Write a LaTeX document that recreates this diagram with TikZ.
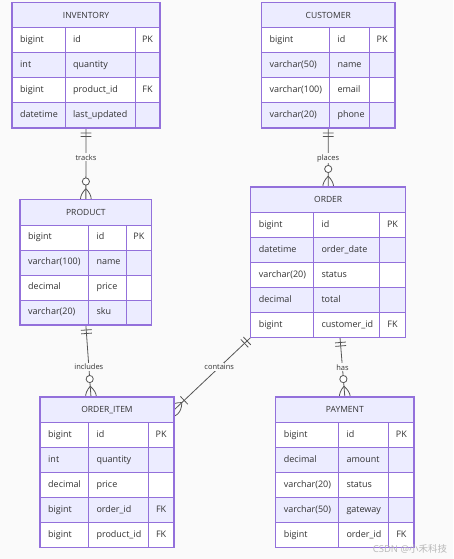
\documentclass[tikz,border=0pt]{standalone}
\usepackage{fontspec}
\setmainfont{Open Sans}
\newfontfamily\cjkfont{Noto Sans CJK SC}
\usetikzlibrary{calc}
\definecolor{bgc}{HTML}{FAFAFA}
\definecolor{hdrc}{HTML}{ECECFF}
\definecolor{evenc}{HTML}{ECECFF}
\definecolor{bordc}{HTML}{9370DB}
\definecolor{txtc}{HTML}{333333}
\definecolor{linec}{HTML}{555555}
\pgfdeclarelayer{back}
\pgfdeclarelayer{edges}
\pgfsetlayers{back,edges,main}
\tikzset{
  tablebox/.style={rectangle, draw=none, fill=white, inner sep=0pt, outer sep=0pt, anchor=north west},
  border/.style={draw=bordc, line width=1.3pt},
  gridline/.style={draw=bordc, line width=1pt},
  hdrtext/.style={font=\fontsize{8.5}{10}\selectfont, text=txtc, inner sep=0pt},
  celltext/.style={font=\fontsize{9}{11}\selectfont, text=txtc, inner sep=0pt, anchor=west, text height=6.6pt, text depth=1.9pt},
  rel/.style={draw=linec, line width=0.8pt},
  lbl/.style={font=\fontsize{7.5}{9}\selectfont, text=txtc, fill=bgc, inner sep=1pt},
  mk/.style={draw=linec, line width=0.8pt},
}
\newcommand\ertable[9]{%
  \pgfmathsetmacro\tbh{25.5+#7*25}%
  \node[tablebox, minimum width={(#5-#2)*1pt}, minimum height={\tbh*1pt}] (#1) at (#2,#6) {};
  \fill[hdrc] (#2,#6) rectangle (#5,{#6+25.5});
  \node[hdrtext] (#1-title) at ({(#2+#5)/2},{#6+12.75}) {#8};
  \foreach \ty/\nm/\ky [count=\i] in {#9} {
    \pgfmathsetmacro\ry{#6+25.5+(\i-1)*25}
    \ifodd\i\relax\else \fill[evenc] (#2,\ry) rectangle (#5,\ry+25);\fi
    \draw[gridline] (#2,\ry) -- (#5,\ry);
    \node[celltext] (#1-t\i) at (#2+8,\ry+12.5) {\ty};
    \node[celltext] (#1-n\i) at (#3+8,\ry+12.5) {\nm};
    \node[celltext, anchor=center] (#1-k\i) at ({(#4+#5)/2},\ry+12.5) {\ky};
  }
  \draw[gridline] (#3,{#6+25.5}) -- (#3,{#6+\tbh});
  \draw[gridline] (#4,{#6+25.5}) -- (#4,{#6+\tbh});
  \draw[border] (#1.north west) rectangle (#1.south east);
}
\newcommand\mkangle[2]{%
  \path let \p1=($(#1)-(#2)$) in \pgfextra{\pgfmathparse{atan2(\y1,\x1)}\xdef\mkang{\pgfmathresult}};}
\newcommand\mklens{\draw[mk] (-10.8,0) .. controls (-3.6,7.2) and (3.6,7.2) .. (10.8,0) .. controls (3.6,-7.2) and (-3.6,-7.2) .. (-10.8,0);}
\newcommand\mkZeroMany[2]{\mkangle{#1}{#2}%
  \begin{scope}[shift={(#1)}, rotate=\mkang]
    \mklens
    \draw[mk, fill=white] (-18,0) circle[radius=3.6pt];
  \end{scope}}
\newcommand\mkOneMany[2]{\mkangle{#1}{#2}%
  \begin{scope}[shift={(#1)}, rotate=\mkang]
    \mklens
    \draw[mk] (-14,-5.4) -- (-14,5.4);
  \end{scope}}
\newcommand\mkOnlyOne[2]{\mkangle{#1}{#2}%
  \begin{scope}[shift={(#1)}, rotate=\mkang]
    \draw[mk] (-5,-5.4) -- (-5,5.4) (-8.5,-5.4) -- (-8.5,5.4);
  \end{scope}}
\begin{document}
\begin{tikzpicture}[x=1pt,y=-1pt]
\useasboundingbox (0,0) rectangle (453,559);
\begin{pgfonlayer}{back}
  \fill[bgc] (0,0) rectangle (453,559);
\end{pgfonlayer}

\ertable{inv}{12}{65}{135}{160}{2.5}{4}{INVENTORY}{bigint/id/PK, int/quantity/{}, bigint/product\_id/FK, datetime/last\_updated/{}}
\ertable{cus}{261.5}{329.3}{369.3}{395}{2.5}{4}{CUSTOMER}{bigint/id/PK, {varchar(50)}/name/{}, {varchar(100)}/email/{}, {varchar(20)}/phone/{}}
\ertable{prod}{20}{88.3}{126}{151.7}{199.5}{4}{PRODUCT}{bigint/id/PK, {varchar(100)}/name/{}, decimal/price/{}, {varchar(20)}/sku/{}}
\ertable{ord}{250.7}{313.3}{379.3}{405.7}{187}{5}{ORDER}{bigint/id/PK, datetime/order\_date/{}, {varchar(20)}/status/{}, decimal/total/{}, bigint/customer\_id/FK}
\ertable{oi}{40}{88.3}{148.3}{174}{397}{5}{ORDER\_ITEM}{bigint/id/PK, int/quantity/{}, decimal/price/{}, bigint/order\_id/FK, bigint/product\_id/FK}
\ertable{pay}{275.7}{338.3}{388.7}{414}{397}{5}{PAYMENT}{bigint/id/PK, decimal/amount/{}, {varchar(20)}/status/{}, {varchar(50)}/gateway/{}, bigint/order\_id/FK}

\coordinate (c1a) at (inv.south);
\coordinate (c1b) at (prod.north);
\coordinate (c2a) at (cus.south);
\coordinate (c2b) at (ord.north);
\coordinate (c3a) at (prod.south);
\coordinate (c3b) at ($(oi.north west)+(51,0)$);
\coordinate (c4a) at (ord.south west);
\coordinate (c4b) at ($(oi.north east)+(0,13)$);
\coordinate (c5a) at ($(ord.south west)+(89.3,0)$);
\coordinate (c5b) at (pay.north);

\begin{pgfonlayer}{edges}
  \draw[rel] (c1a) -- node[lbl, pos=0.41] (l1) {tracks} (c1b);
  \draw[rel] (c2a) -- node[lbl, pos=0.51] (l2) {places} (c2b);
  \draw[rel] (c3a) -- node[lbl, pos=0.58] (l3) {includes} (c3b);
  \draw[rel] (c4a) -- node[lbl, pos=0.41] (l4) {contains} (c4b);
  \draw[rel] (c5a) -- node[lbl, pos=0.5] (l5) {has} (c5b);
  \mkOnlyOne{c1a}{c1b}
  \mkZeroMany{c1b}{c1a}
  \mkOnlyOne{c2a}{c2b}
  \mkZeroMany{c2b}{c2a}
  \mkOnlyOne{c3a}{c3b}
  \mkZeroMany{c3b}{c3a}
  \mkOnlyOne{c4a}{c4b}
  \mkOneMany{c4b}{c4a}
  \mkOnlyOne{c5a}{c5b}
  \mkZeroMany{c5b}{c5a}
\end{pgfonlayer}

\node[font=\fontsize{9.5}{11}\selectfont, text=black!28, inner sep=0pt] (wm) at (410,549) {CSDN @{\cjkfont 小禾科技}};
\end{tikzpicture}
\end{document}
